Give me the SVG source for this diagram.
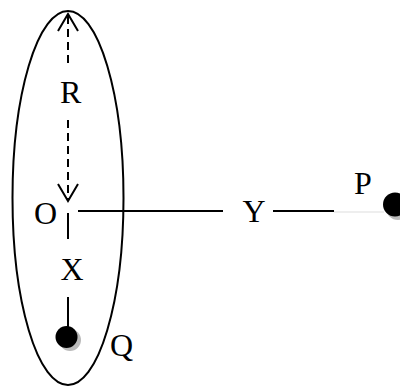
<svg xmlns="http://www.w3.org/2000/svg" width="400" height="387" viewBox="0 0 400 387">
<defs>
<style>
.t{font-family:"Liberation Serif","Times New Roman",serif;font-size:32px;fill:#000}
.ln{stroke:#000;stroke-width:2;fill:none}
.dash{stroke:#000;stroke-width:2;fill:none;stroke-dasharray:8,5}
.dot{fill:#000}
.sh{fill:#bbb}
</style>
<marker id="arr" viewBox="-20 -12 24 24" markerWidth="24" markerHeight="24" refX="0" refY="0" orient="auto" markerUnits="userSpaceOnUse">
<path d="M-17,-10 L0,0 L-17,10" fill="none" stroke="#000" stroke-width="2"/>
</marker>
</defs>
<rect width="400" height="387" fill="#fff"/>
<g id="ellipse">
<ellipse cx="68" cy="198" rx="55.5" ry="187" class="ln"/>
</g>
<g id="connectors">
<line x1="68" y1="63" x2="68" y2="14" class="dash" marker-end="url(#arr)"/>
<line x1="68" y1="120" x2="68" y2="201" class="dash" marker-end="url(#arr)"/>
<line x1="68" y1="213" x2="68" y2="239" class="ln"/>
<line x1="68" y1="297" x2="68" y2="327" class="ln"/>
<line x1="78" y1="211" x2="223" y2="211" class="ln"/>
<line x1="273" y1="211" x2="334" y2="211" class="ln"/>
<line x1="334" y1="212" x2="384" y2="212" stroke="#ddd" stroke-width="1"/>
</g>
<g id="node-Q">
<circle cx="70" cy="340" r="11" class="sh"/>
<circle cx="66.5" cy="337" r="11" class="dot"/>
<text x="110" y="356" class="t">Q</text>
</g>
<g id="node-P">
<circle cx="398" cy="208" r="12" class="sh"/>
<circle cx="395" cy="204.5" r="12" class="dot"/>
<text x="354" y="194" class="t">P</text>
</g>
<g id="node-O">
<text x="34" y="224" class="t">O</text>
</g>
<g id="labels">
<text x="60" y="103" class="t">R</text>
<text x="60.5" y="280" class="t">X</text>
<text x="242.5" y="222" class="t">Y</text>
</g>
</svg>
